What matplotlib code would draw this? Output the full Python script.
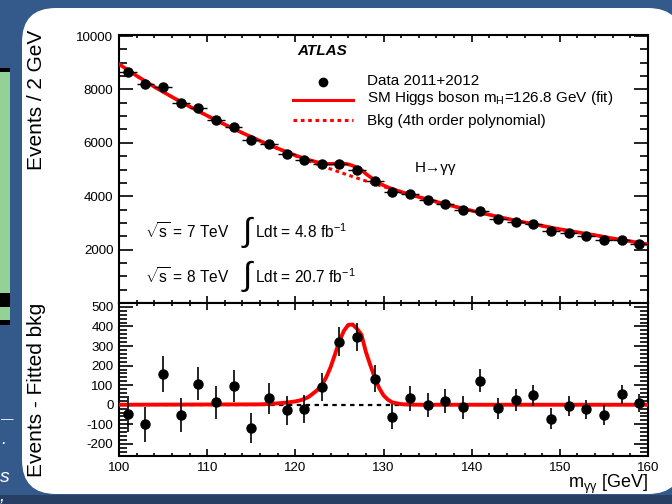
import numpy as np
import matplotlib
matplotlib.use('Agg')
import matplotlib.pyplot as plt
from matplotlib.patches import FancyBboxPatch, Rectangle
from matplotlib.transforms import IdentityTransform
from matplotlib.ticker import MultipleLocator

plt.rcParams['font.family'] = ['Liberation Sans', 'DejaVu Sans']
plt.rcParams['mathtext.fontset'] = 'custom'
plt.rcParams['mathtext.rm'] = 'Liberation Sans'
plt.rcParams['mathtext.it'] = 'Liberation Sans:italic'
plt.rcParams['mathtext.bf'] = 'Liberation Sans:bold'
plt.rcParams['axes.unicode_minus'] = False

# diphoton mass bins (GeV), 2 GeV wide
mass = [101, 103, 105, 107, 109, 111, 113, 115, 117, 119,
        121, 123, 125, 127, 129, 131, 133, 135, 137, 139,
        141, 143, 145, 147, 149, 151, 153, 155, 157, 159]
events = [8670, 8200, 8080, 7490, 7300, 6850, 6610, 6090, 5950, 5590,
          5340, 5220, 5220, 4990, 4570, 4160, 4070, 3860, 3700, 3500,
          3450, 3160, 3050, 2960, 2700, 2640, 2500, 2375, 2375, 2225]
event_err = [93, 91, 90, 87, 85, 83, 81, 78, 77, 75,
             73, 72, 72, 71, 68, 64, 64, 62, 61, 59,
             59, 56, 55, 54, 52, 51, 50, 49, 49, 47]
# events - fitted background
residual = [-47, -100, 157, -51, 107, 12, 97, -120, 32, -29,
            -22, 91, 323, 345, 134, -61, 32, -3, 20, -12,
            122, -19, 24, 49, -71, -8, -24, -52, 54, 9]

# background fit (4th order polynomial)
bkg_mass = [100, 102, 104, 106, 108, 110, 112, 114, 116, 118, 120,
            122, 124, 126, 128, 130, 132, 134, 136, 138, 140,
            142, 144, 146, 148, 150, 152, 154, 156, 158, 160]
bkg_fit = [8950, 8510, 8100, 7720, 7360, 7015, 6685, 6370, 6070, 5785, 5515,
           5260, 5020, 4790, 4570, 4360, 4160, 3970, 3790, 3620, 3460,
           3305, 3160, 3020, 2890, 2765, 2650, 2540, 2420, 2310, 2200]

# signal fit (m_H = 126.8 GeV)
sig_mass = [100, 116, 117, 118, 119, 120, 120.5, 121, 121.5, 122, 122.5,
            123, 123.5, 124, 124.5, 125, 125.5, 126, 126.5, 127, 127.5,
            128, 128.5, 129, 129.5, 130, 130.5, 131, 132, 133, 134, 160]
sig_fit = [0, 2, 4, 7, 11, 17, 22, 29, 40, 57, 75,
           100, 140, 192, 258, 325, 377, 408, 410, 388, 358,
           270, 203, 140, 86, 48, 26, 12, 3, 1, 0, 0]

W, H = 672, 504
fig = plt.figure(figsize=(W / 100, H / 100), dpi=100, facecolor='#34598b')

# slide background: white rounded panel, bits of the neighbouring slide
fig.add_artist(Rectangle((0, 0), W, 9, transform=IdentityTransform(),
                         facecolor='#263f63', edgecolor='none', zorder=-12))
fig.add_artist(FancyBboxPatch((22, 10), 660, 486, boxstyle='round,pad=0,rounding_size=34',
                              transform=IdentityTransform(), facecolor='white',
                              edgecolor='none', zorder=-10))
fig.add_artist(Rectangle((0, H - 325), 10, 257, transform=IdentityTransform(),
                         facecolor='#93d197', edgecolor='none', zorder=-11))
for y0, h in [(H - 72, 4), (H - 307, 14), (H - 325, 5)]:
    fig.add_artist(Rectangle((0, y0), 10, h, transform=IdentityTransform(),
                             facecolor='black', edgecolor='none', zorder=-11))
fig.text(0.0, 1 - 420 / H, '\u2014', color='white', fontsize=9, va='center', style='italic')
fig.text(0.002, 1 - 440 / H, '.', color='white', fontsize=13, va='center', style='italic')
fig.text(0.0, 1 - 478 / H, 's', color='white', fontsize=14, va='center', style='italic')
fig.text(0.0, 1 - 497 / H, ',', color='white', fontsize=13, va='center', style='italic')

ax1 = fig.add_axes([119 / W, 1 - 303 / H, 529 / W, 268 / H])
ax2 = fig.add_axes([119 / W, 1 - 456 / H, 529 / W, 153 / H])

# combined signal + background curve
grid = sorted(set(bkg_mass) | set(sig_mass))
sb = np.interp(grid, bkg_mass, bkg_fit) + np.interp(grid, sig_mass, sig_fit)

ax1.plot(bkg_mass, bkg_fit, color='red', lw=2.2, ls=(0, (1.2, 1.2)), zorder=2)
ax1.plot(grid, sb, color='red', lw=2.6, zorder=3)
ax1.errorbar(mass, events, xerr=1, yerr=event_err, fmt='o', color='black',
             ms=6.5, elinewidth=1.0, capsize=0, zorder=5)

ax2.plot([100, 160], [0, 0], color='black', lw=1.6, ls=(0, (2, 2)), zorder=2)
ax2.plot(sig_mass, sig_fit, color='red', lw=2.8, zorder=3)
ax2.errorbar(mass, residual, yerr=event_err, fmt='o', color='black',
             ms=6.5, elinewidth=1.2, capsize=0, zorder=5)

ax1.set_xlim(100, 160)
ax1.set_ylim(0, 10040)
ax2.set_xlim(100, 160)
ax2.set_ylim(-262, 520)

ax1.set_yticks([2000, 4000, 6000, 8000, 10000])
ax1.yaxis.set_minor_locator(MultipleLocator(500))
ax2.set_yticks(range(-200, 501, 100))
ax2.yaxis.set_minor_locator(MultipleLocator(20))
for ax in (ax1, ax2):
    ax.xaxis.set_major_locator(MultipleLocator(10))
    ax.xaxis.set_minor_locator(MultipleLocator(2))
    ax.tick_params(which='both', direction='in', top=True, right=True,
                   labelsize=9.6, width=1.2, pad=4)
    ax.tick_params(axis='y', which='major', length=10)
    ax.tick_params(axis='y', which='minor', length=5.5)
    ax.tick_params(axis='x', which='major', length=5)
    ax.tick_params(axis='x', which='minor', length=2.5)
    for s in ax.spines.values():
        s.set_linewidth(1.5)
ax1.tick_params(labelbottom=False)

# legend and labels
ax1.text(0.384, 0.94, 'ATLAS', transform=ax1.transAxes, ha='center', va='center',
         fontsize=11, fontweight='bold', style='italic')
ax1.plot([0.3856], [0.826], 'o', color='black', ms=6, transform=ax1.transAxes)
ax1.plot([0.329, 0.442], [0.7575, 0.7575], color='red', lw=2.2, transform=ax1.transAxes)
ax1.plot([0.329, 0.442], [0.683, 0.683], color='red', lw=2.2, ls=(0, (1.2, 1.2)),
         transform=ax1.transAxes)
ax1.text(0.4688, 0.814, 'Data 2011+2012', transform=ax1.transAxes, fontsize=11,
         va='baseline')
ax1.text(0.4688, 0.749, r'SM Higgs boson m$_{\mathregular{H}}$=126.8 GeV (fit)',
         transform=ax1.transAxes, fontsize=11, va='baseline')
ax1.text(0.4688, 0.664, 'Bkg (4th order polynomial)', transform=ax1.transAxes,
         fontsize=11, va='baseline')
ax1.text(0.5595, 0.504, 'H\u2192\u03b3\u03b3', transform=ax1.transAxes, fontsize=11,
         va='center')

for yb, yc, txt, lum in [(0.2407, 0.262, '7', '4.8'), (0.0728, 0.1, '8', '20.7')]:
    ax1.text(0.0491, yb, r'$\sqrt{\mathregular{s}}$ = ' + txt + ' TeV', transform=ax1.transAxes,
             fontsize=11.2, va='baseline')
    ax1.text(0.2430, yc, '\u222b', transform=ax1.transAxes, fontsize=24,
             ha='center', va='center')
    ax1.text(0.257, yb, 'Ldt = ' + lum + r' fb$^{\mathregular{-1}}$', transform=ax1.transAxes,
             fontsize=11.2, va='baseline')

fig.text(37 / W, 1 - 30 / H, 'Events / 2 GeV', rotation=90, ha='center', va='top', fontsize=15)
fig.text(37 / W, 1 - 303 / H, 'Events - Fitted bkg', rotation=90, ha='center', va='top',
         fontsize=15)
fig.text(648 / W, 1 - 484 / H, r'm$_{\mathregular{\gamma\gamma}}$ [GeV]', ha='right',
         va='center', fontsize=13)

fig.savefig('out.png', dpi=100, facecolor=fig.get_facecolor())
